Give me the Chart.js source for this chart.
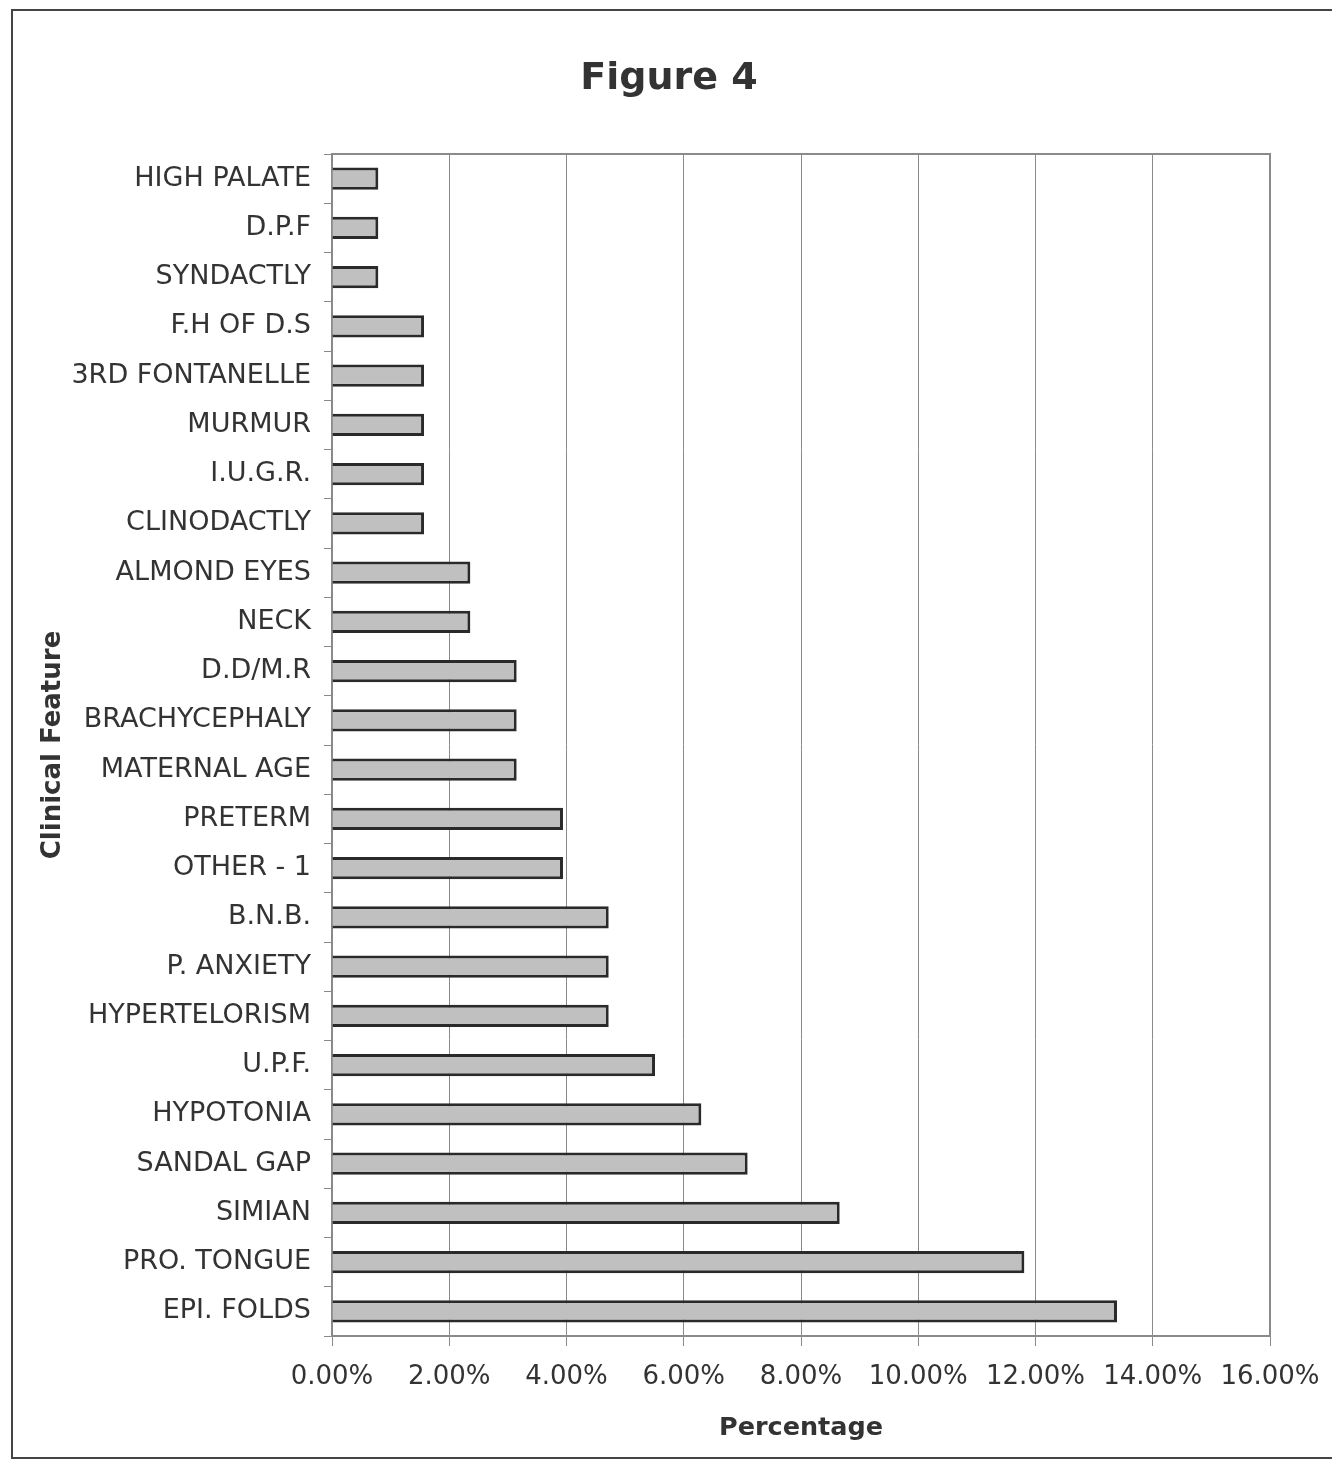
<!DOCTYPE html>
<html>
<head>
<meta charset="utf-8">
<script src="https://cdn.jsdelivr.net/npm/chart.js@4/dist/chart.umd.min.js"></script>
<style>
html,body{margin:0;padding:0;background:#fff;}
#wrap{width:1332px;height:1461px;position:relative;}
</style>
</head>
<body>
<div id="wrap"><canvas id="c"></canvas></div>
<script>
const categories = ["HIGH PALATE","D.P.F","SYNDACTLY","F.H OF D.S","3RD FONTANELLE","MURMUR","I.U.G.R.","CLINODACTLY","ALMOND EYES","NECK","D.D/M.R","BRACHYCEPHALY","MATERNAL AGE","PRETERM","OTHER - 1","B.N.B.","P. ANXIETY","HYPERTELORISM","U.P.F.","HYPOTONIA","SANDAL GAP","SIMIAN","PRO. TONGUE","EPI. FOLDS"];
const percentages = [0.79,0.79,0.79,1.57,1.57,1.57,1.57,1.57,2.36,2.36,3.15,3.15,3.15,3.94,3.94,4.72,4.72,4.72,5.51,6.30,7.09,8.66,11.81,13.39];
const xTickValues = [0,2,4,6,8,10,12,14,16];
const chartTitle = "Figure 4";
const xTitle = "Percentage";
const yTitle = "Clinical Feature";

const FONT = "'DejaVu Sans', Verdana, sans-serif";

const framePlugin = {
  id: 'frame',
  beforeDatasetsDraw(chart) {
    const {ctx, chartArea: a} = chart;
    ctx.save();
    ctx.strokeStyle = '#8a8a8a';
    ctx.lineWidth = 2;
    ctx.strokeRect(a.left, a.top, a.right - a.left, a.bottom - a.top);
    ctx.restore();
  },
  afterDraw(chart) {
    const ctx = chart.ctx;
    ctx.save();
    ctx.strokeStyle = '#444';
    ctx.lineWidth = 2;
    ctx.strokeRect(12, 10, 1400, 1448);
    ctx.restore();
  }
};

new Chart(document.getElementById('c'), {
  type: 'bar',
  data: {
    labels: categories,
    datasets: [{
      data: percentages,
      backgroundColor: '#c0c0c0',
      borderColor: '#2a2a2a',
      borderWidth: 3,
      barPercentage: 0.45,
      categoryPercentage: 1
    }]
  },
  plugins: [framePlugin],
  options: {
    indexAxis: 'y',
    responsive: true,
    maintainAspectRatio: false,
    animation: false,
    layout: { padding: { left: 68, right: 62, top: 0, bottom: 0 } },
    plugins: {
      legend: { display: false },
      tooltip: { enabled: false },
      title: {
        display: true,
        text: chartTitle,
        color: '#333',
        font: { family: FONT, size: 38, weight: 'bold', lineHeight: 1.2 },
        padding: { top: 56, bottom: 52.4 }
      }
    },
    scales: {
      x: {
        min: 0, max: 16,
        afterBuildTicks(axis) { axis.ticks = xTickValues.map(v => ({value: v})); },
        afterFit(axis) { axis.height = 125; },
        ticks: {
          color: '#333',
          font: { family: FONT, size: 26, lineHeight: 1.46 },
          padding: 12,
          maxRotation: 0,
          callback: v => Number(v).toFixed(2) + '%'
        },
        grid: { color: '#8a8a8a', lineWidth: 1, tickLength: 10 },
        border: { color: '#8a8a8a', width: 2 },
        title: {
          display: true,
          text: xTitle,
          color: '#333',
          font: { family: FONT, size: 25.5, weight: 'bold', lineHeight: 1.2 },
          padding: { top: 0, bottom: 17 }
        }
      },
      y: {
        afterFit(axis) { axis.width = 264; },
        ticks: {
          color: '#333',
          font: { family: FONT, size: 27 },
          padding: 13,
          autoSkip: false
        },
        grid: { drawOnChartArea: false, color: '#8a8a8a', tickLength: 8, offset: true },
        border: { color: '#8a8a8a', width: 2 },
        title: {
          display: true,
          text: yTitle,
          color: '#333',
          font: { family: FONT, size: 26, weight: 'bold', lineHeight: 1.2 },
          padding: { top: -30, bottom: 0 }
        }
      }
    }
  }
});
</script>
</body>
</html>
